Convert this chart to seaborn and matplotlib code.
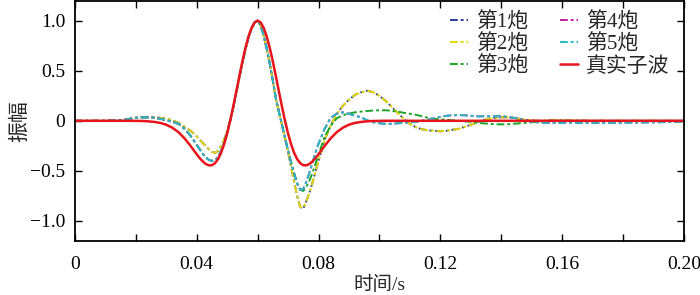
import seaborn as sns
import matplotlib.pyplot as plt

# sample times (s)
t = [0.000, 0.010, 0.016, 0.018, 0.020, 0.022, 0.024, 0.026, 0.028, 0.030,
     0.032, 0.034, 0.036, 0.038,
     0.040, 0.041, 0.042, 0.043, 0.044, 0.045, 0.046, 0.047, 0.048, 0.049,
     0.050, 0.051, 0.052, 0.053, 0.054, 0.055, 0.056, 0.057, 0.058, 0.059,
     0.060, 0.061, 0.062, 0.063, 0.064, 0.065, 0.066, 0.067, 0.068, 0.069,
     0.070, 0.071, 0.072, 0.073, 0.074, 0.075, 0.076, 0.077, 0.078, 0.079,
     0.080,
     0.082, 0.084, 0.086, 0.088, 0.090, 0.092, 0.094, 0.096, 0.098, 0.100,
     0.102, 0.104, 0.106, 0.108, 0.110, 0.112, 0.114, 0.116, 0.118, 0.120,
     0.122, 0.124, 0.126, 0.128, 0.130, 0.132, 0.134, 0.136, 0.138, 0.140,
     0.142, 0.144, 0.146, 0.148, 0.150, 0.152, 0.154, 0.156, 0.158, 0.160,
     0.170, 0.180, 0.190, 0.200]

shot1 = [0, 0, 0.01, 0.02, 0.03, 0.035, 0.035, 0.035, 0.03, 0.02,
         0.005, -0.02, -0.06, -0.10,
         -0.155, -0.19, -0.22, -0.255, -0.285, -0.31, -0.32, -0.30, -0.25, -0.19,
         -0.10, 0.01, 0.13, 0.28, 0.43, 0.58, 0.71, 0.83, 0.92, 0.98,
         1.0, 0.95, 0.85, 0.72, 0.57, 0.40, 0.22, 0.09, -0.04, -0.17,
         -0.31, -0.46, -0.61, -0.75, -0.86, -0.88, -0.80, -0.72, -0.62, -0.51,
         -0.40,
         -0.19, -0.05, 0.07, 0.15, 0.21, 0.26, 0.285, 0.30, 0.285, 0.25,
         0.20, 0.14, 0.08, 0.02, -0.03, -0.065, -0.085, -0.095, -0.10, -0.105,
         -0.10, -0.09, -0.08, -0.06, -0.04, -0.015, 0.005, 0.02, 0.03, 0.035,
         0.035, 0.03, 0.02, 0.01, 0.005, 0.0, 0.0, 0.005, 0.005, 0.005,
         0.0, 0.0, 0.0, 0.0]

shot2 = [0, 0, 0.01, 0.02, 0.03, 0.035, 0.035, 0.035, 0.03, 0.02,
         0.005, -0.02, -0.06, -0.10,
         -0.155, -0.19, -0.22, -0.255, -0.285, -0.31, -0.32, -0.30, -0.25, -0.19,
         -0.10, 0.01, 0.13, 0.28, 0.43, 0.58, 0.71, 0.83, 0.92, 0.98,
         1.0, 0.95, 0.85, 0.72, 0.57, 0.40, 0.22, 0.09, -0.04, -0.17,
         -0.31, -0.46, -0.61, -0.75, -0.86, -0.87, -0.80, -0.72, -0.62, -0.51,
         -0.40,
         -0.19, -0.05, 0.07, 0.15, 0.21, 0.26, 0.285, 0.30, 0.285, 0.25,
         0.20, 0.14, 0.08, 0.02, -0.03, -0.065, -0.085, -0.095, -0.10, -0.105,
         -0.10, -0.09, -0.08, -0.06, -0.04, -0.015, 0.005, 0.02, 0.03, 0.035,
         0.035, 0.03, 0.02, 0.01, 0.005, 0.0, 0.0, 0.005, 0.005, 0.005,
         0.0, 0.0, 0.0, 0.0]

shot3 = [0, 0, 0.01, 0.02, 0.03, 0.035, 0.035, 0.03, 0.02, 0.005,
         -0.01, -0.03, -0.08, -0.15,
         -0.24, -0.285, -0.33, -0.365, -0.39, -0.40, -0.395, -0.36, -0.30, -0.22,
         -0.12, 0.0, 0.13, 0.28, 0.43, 0.58, 0.71, 0.83, 0.92, 0.98,
         1.0, 0.95, 0.85, 0.72, 0.57, 0.40, 0.22, 0.09, -0.04, -0.17,
         -0.29, -0.41, -0.52, -0.62, -0.69, -0.70, -0.66, -0.60, -0.52, -0.43,
         -0.34,
         -0.16, -0.05, 0.025, 0.055, 0.072, 0.085, 0.092, 0.098, 0.102, 0.105,
         0.105, 0.10, 0.092, 0.08, 0.07, 0.06, 0.045, 0.03, 0.02, 0.015,
         0.01, 0.005, 0.0, -0.005, -0.01, -0.02, -0.025, -0.03, -0.035, -0.035,
         -0.035, -0.03, -0.025, -0.02, -0.015, -0.01, -0.005, 0.0, 0.0, 0.0,
         0.0, 0.0, 0.0, 0.0]

shot4 = [0, 0, 0.01, 0.02, 0.03, 0.035, 0.035, 0.03, 0.02, 0.005,
         -0.01, -0.03, -0.08, -0.15,
         -0.24, -0.285, -0.33, -0.365, -0.39, -0.40, -0.395, -0.36, -0.30, -0.22,
         -0.12, 0.0, 0.13, 0.28, 0.43, 0.58, 0.71, 0.83, 0.92, 0.98,
         1.0, 0.95, 0.85, 0.72, 0.57, 0.40, 0.22, 0.09, -0.04, -0.17,
         -0.30, -0.42, -0.53, -0.63, -0.69, -0.68, -0.61, -0.52, -0.42, -0.32,
         -0.23,
         -0.08, 0.03, 0.07, 0.085, 0.07, 0.05, 0.035, 0.005, -0.015, -0.025,
         -0.03, -0.03, -0.025, -0.02, -0.015, -0.01, 0.0, 0.01, 0.025, 0.04,
         0.05, 0.055, 0.057, 0.055, 0.05, 0.045, 0.045, 0.045, 0.045, 0.045,
         0.04, 0.03, 0.02, 0.005, -0.01, -0.015, -0.02, -0.02, -0.02, -0.02,
         -0.02, -0.02, -0.015, -0.01]

shot5 = [0, 0, 0.01, 0.02, 0.03, 0.035, 0.035, 0.03, 0.02, 0.005,
         -0.01, -0.03, -0.08, -0.15,
         -0.24, -0.285, -0.33, -0.365, -0.39, -0.40, -0.395, -0.36, -0.30, -0.22,
         -0.12, 0.0, 0.13, 0.28, 0.43, 0.58, 0.71, 0.83, 0.92, 0.98,
         1.0, 0.95, 0.85, 0.72, 0.57, 0.40, 0.22, 0.09, -0.04, -0.17,
         -0.30, -0.42, -0.53, -0.63, -0.69, -0.68, -0.61, -0.52, -0.42, -0.32,
         -0.23,
         -0.08, 0.03, 0.07, 0.085, 0.07, 0.05, 0.035, 0.005, -0.015, -0.025,
         -0.03, -0.03, -0.025, -0.02, -0.015, -0.01, 0.0, 0.01, 0.025, 0.04,
         0.05, 0.055, 0.057, 0.055, 0.05, 0.045, 0.045, 0.045, 0.045, 0.045,
         0.04, 0.03, 0.02, 0.005, -0.01, -0.015, -0.02, -0.02, -0.02, -0.02,
         -0.02, -0.02, -0.015, -0.01]

true_wavelet = [0, 0, 0, 0, -0.001, -0.002, -0.005, -0.011, -0.021, -0.039,
                -0.069, -0.113, -0.175, -0.251,
                -0.334, -0.373, -0.406, -0.431, -0.445, -0.443, -0.423, -0.383, -0.320, -0.234,
                -0.126, 0.000, 0.142, 0.292, 0.445, 0.593, 0.727, 0.841, 0.927, 0.982,
                1.0, 0.982, 0.927, 0.841, 0.727, 0.593, 0.445, 0.292, 0.142, 0.000,
                -0.126, -0.234, -0.320, -0.383, -0.423, -0.443, -0.445, -0.431, -0.406, -0.373,
                -0.334,
                -0.251, -0.175, -0.113, -0.069, -0.039, -0.021, -0.011, -0.005, -0.002, -0.001,
                0, 0, 0, 0, 0, 0, 0, 0, 0, 0,
                0, 0, 0, 0, 0, 0, 0, 0, 0, 0,
                0, 0, 0, 0, 0, 0, 0, 0, 0, 0,
                0, 0, 0, 0]

labels = ['第1炮', '第2炮', '第3炮', '第4炮', '第5炮', '真实子波']
colors = ['#2a3c9e', '#e6d800', '#1aa52a', '#c41c9c', '#22bcc4', '#e8141c']
xticks = [0, 0.02, 0.04, 0.06, 0.08, 0.10, 0.12, 0.14, 0.16, 0.18, 0.20]
xticklabels = ['0', '', '0.04', '', '0.08', '', '0.12', '', '0.16', '', '0.20']
yticks = [-1.0, -0.5, 0, 0.5, 1.0]
yticklabels = ['\u22121.0', '\u22120.5', '0', '0.5', '1.0']

sns.set_theme(style='ticks')
plt.rcParams['font.family'] = ['Liberation Serif', 'Noto Sans CJK SC']

fig, ax = plt.subplots(figsize=(7, 2.95), dpi=100)
fig.subplots_adjust(left=0.107, right=0.977, top=0.998, bottom=0.183)

dash = (0, (4, 1.5, 1.5, 1.5))
series = [shot1, shot2, shot3, shot4, shot5]
for vals, lab, col in zip(series, labels[:5], colors[:5]):
    sns.lineplot(x=t, y=vals, ax=ax, color=col, linewidth=1.4,
                 linestyle=dash, label=lab)
sns.lineplot(x=t, y=true_wavelet, ax=ax, color=colors[5], linewidth=1.8,
             label=labels[5])

ax.set_xlim(0, 0.2)
ax.set_ylim(-1.2, 1.2)
ax.set_xticks(xticks)
ax.set_xticklabels(xticklabels)
ax.set_yticks(yticks)
ax.set_yticklabels(yticklabels)
ax.tick_params(direction='in', top=True, right=True, length=5, width=1,
               labelsize=14, colors='black')
ax.tick_params(axis='x', pad=11)
ax.tick_params(axis='y', pad=7)
for s in ax.spines.values():
    s.set_linewidth(1.3)
    s.set_color('black')

ax.set_xlabel('时间/s', fontsize=14, labelpad=2)
ax.set_ylabel('振幅', fontsize=15, labelpad=0)

ax.legend(loc='upper left', bbox_to_anchor=(0.603, 0.985), ncol=2,
          frameon=False, fontsize=15, handlelength=0.85, handletextpad=0.4,
          columnspacing=1.5, labelspacing=0.1, borderaxespad=0.0)

plt.savefig('out.png', dpi=100)
